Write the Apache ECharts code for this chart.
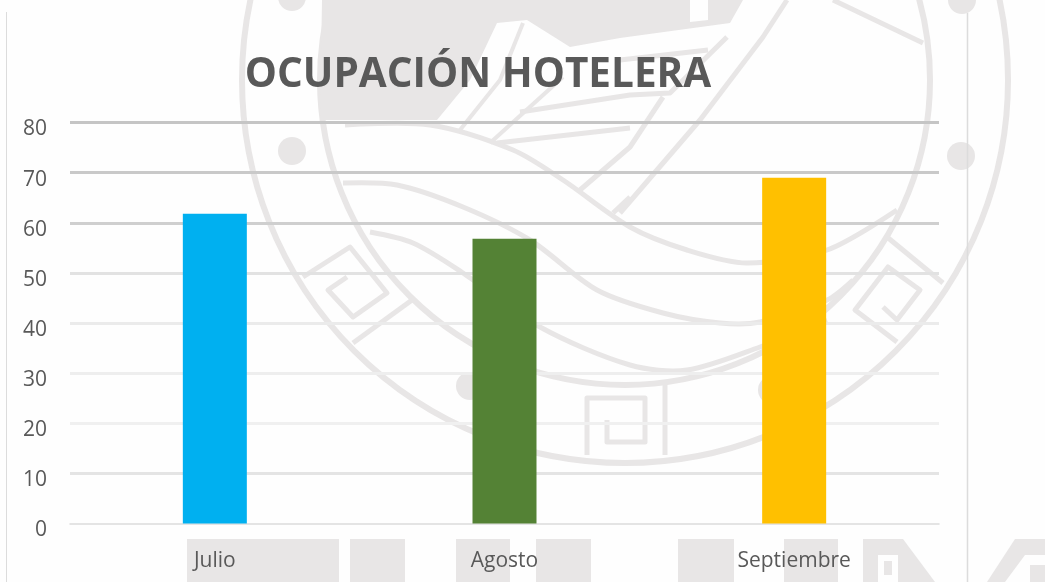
<!DOCTYPE html>
<html><head><meta charset="utf-8">
<style>html,body{margin:0;padding:0;background:#fefefe}#c{width:1045px;height:582px}</style>
<script src="https://cdn.jsdelivr.net/npm/echarts@6/dist/echarts.min.js"></script>
</head><body><div id="c"></div>
<script>
const categories = ['Julio', 'Agosto', 'Septiembre'];
const occupancy = [61.8, 56.8, 69];
const barColors = ['#00B0F0', '#548235', '#FFC000'];
const gridColors = ['#e4e4e4','#f0f0f0','#eeeeee','#ebebeb','#e2e2e2','#cfcfcf','#c9c9c9','#c5c5c5','#c1c1c1'];
const wm = '#e8e6e6';
const bg = '#fefefe';

function ring(cx, cy, r, w){return {type:'circle',z:-10,shape:{cx,cy,r},style:{fill:'none',stroke:wm,lineWidth:w}};}
function dot(cx, cy, r){return {type:'circle',z:-10,shape:{cx,cy,r},style:{fill:wm}};}
function box(x, y, width, height){return {type:'rect',z:-10,shape:{x,y,width,height},style:{fill:wm}};}
function poly(points, w, smooth){return {type:'polyline',z:-9,shape:{points,smooth:smooth||0},style:{fill:'none',stroke:wm,lineWidth:w||4,lineJoin:'round'}};}
function fill(points, color){return {type:'polygon',z:-10,shape:{points},style:{fill:color||wm}};}

const watermark = [
  ring(625,80,383,6), ring(625,80,305,6),
  dot(292,151,14), dot(292,-3,14), dot(470,386,14), dot(772,390,14), dot(961,156,14), dot(962,0,14),
  // filled upper part
  fill([[322,0],[320,120],[437,120],[470,80],[497,23],[527,20],[570,47],[620,38],[730,23],[743,0]]),
  fill([[690,0],[708,0],[708,20],[690,22]],bg),
  // crest lines
  poly([[460,130],[500,80],[523,23]],4), poly([[490,143],[563,77]],4),
  poly([[520,112],[630,95],[670,93],[727,37]],5),
  poly([[497,143],[630,128]],5), poly([[580,190],[630,147],[663,97]],5),
  poly([[613,213],[630,197]],5),
  poly([[620,213],[700,120],[763,37],[787,0]],5),
  poly([[833,0],[923,43]],5),
  poly([[708,50],[620,60]],5),
  // swoosh curves
  poly([[345,125],[430,125],[513,150],[563,180],[630,227],[687,250],[747,263],[827,250],[897,210]],5,0.3),
  poly([[343,183],[397,185],[463,207],[530,240],[597,290],[663,313],[720,323],[760,322],[827,300],[853,280]],5,0.3),
  poly([[370,232],[413,243],[463,273],[540,327],[630,365],[687,370],[760,347],[827,320]],5,0.3),
  // left fret
  poly([[303,277],[350,247],[387,293],[353,317],[328,290],[347,277]],5),
  poly([[353,343],[412,300]],5),
  // right fret
  poly([[887,237],[943,283]],5),
  poly([[883,307],[897,320],[920,290],[888,267],[855,310],[897,342]],5),
  // bottom centre fret
  poly([[587,455],[587,398],[645,398],[645,442],[607,442],[607,420]],5),
  poly([[665,383],[665,455]],5),
  // bottom blocks
  box(187,539,152,43), box(350,539,55,43), box(456,539,54,43), box(536,539,55,43),
  box(678,539,56,43), box(784,539,54,43),
  fill([[863,539],[903,539],[935,582],[863,582]]),
  fill([[878,555],[898,555],[898,582],[878,582]],bg),
  fill([[884,561],[892,561],[892,575],[884,575]]),
  fill([[987,582],[1015,539],[1045,539],[1045,582]]),
  fill([[1005,582],[1025,555],[1045,555],[1045,565],[1030,565],[1030,582]],bg),
  // page frame lines
  {type:'line',z:-5,shape:{x1:6.5,y1:12,x2:6.5,y2:582},style:{stroke:'#dcdcdc',lineWidth:1}},
  {type:'line',z:-5,shape:{x1:967.5,y1:13,x2:967.5,y2:582},style:{stroke:'#dcdcdc',lineWidth:1.5}}
];

const chart = echarts.init(document.getElementById('c'), null, {renderer:'canvas'});
chart.setOption({
  backgroundColor:bg,
  animation:false,
  title:{text:'OCUPACIÓN HOTELERA',left:473,top:50,textAlign:'center',
    textStyle:{fontFamily:'Open Sans',fontWeight:'bold',fontSize:40.5,color:'#595959'}},
  grid:{left:70,right:106,top:122.5,bottom:58.5},
  graphic:watermark,
  xAxis:{type:'category',data:categories,
    axisLine:{lineStyle:{color:'#dcdcdc',width:1.5}},axisTick:{show:false},
    axisLabel:{fontFamily:'Open Sans',fontSize:21,color:'#595959',margin:27}},
  yAxis:{type:'value',min:0,max:80,interval:10,axisLine:{show:false},axisTick:{show:false},
    axisLabel:{fontFamily:'Open Sans',fontSize:21,color:'#595959',margin:23,verticalAlign:'top',lineHeight:14},
    splitLine:{showMinLine:false,lineStyle:{color:gridColors,width:3}}},
  series:[{type:'bar',barWidth:64,
    data:occupancy.map((v,i)=>({value:v,itemStyle:{color:barColors[i]}}))}]
});
</script></body></html>
